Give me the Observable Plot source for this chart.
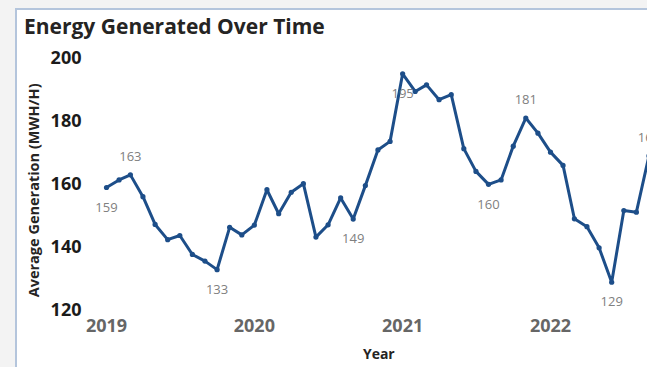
<!DOCTYPE html>
<html>
<head>
<meta charset="utf-8">
<script src="https://cdn.jsdelivr.net/npm/d3@7"></script>
<script src="https://cdn.jsdelivr.net/npm/@observablehq/plot@0.6"></script>
<style>
  html, body { margin: 0; padding: 0; overflow: hidden; background: #f3f3f3; }
  #page { position: relative; width: 647px; height: 367px; overflow: hidden; }
  #card {
    position: absolute; left: 15px; top: 8px; width: 700px; height: 400px;
    background: #ffffff; border-left: 2px solid #b4c5dc; border-top: 2px solid #b4c5dc;
  }
  #title {
    position: absolute; left: 24px; top: 12px; margin: 0;
    font: bold 21px "Open Sans", sans-serif; color: #252423; line-height: 28px; white-space: nowrap;
  }
  #chart { position: absolute; left: 0; top: 0; }
  #chart svg { max-width: none; }
</style>
</head>
<body>
<div id="page">
  <div id="card"></div>
  <div id="title">Energy Generated Over Time</div>
  <div id="chart"></div>
</div>
<script>
// Monthly average generation, January 2019 to September 2022
const months = [
  "2019-01","2019-02","2019-03","2019-04","2019-05","2019-06","2019-07","2019-08","2019-09","2019-10","2019-11","2019-12",
  "2020-01","2020-02","2020-03","2020-04","2020-05","2020-06","2020-07","2020-08","2020-09","2020-10","2020-11","2020-12",
  "2021-01","2021-02","2021-03","2021-04","2021-05","2021-06","2021-07","2021-08","2021-09","2021-10","2021-11","2021-12",
  "2022-01","2022-02","2022-03","2022-04","2022-05","2022-06","2022-07","2022-08","2022-09"
];
const generation = [
  159, 161.4, 163, 156.1, 147.3, 142.5, 143.8, 137.8, 135.7, 133, 146.4, 144,
  147.1, 158.3, 150.7, 157.5, 160.2, 143.3, 147.2, 155.7, 149, 159.6, 170.9, 173.6,
  195, 189.4, 191.5, 186.8, 188.4, 171.3, 164.1, 160, 161.4, 172.1, 181, 176.2,
  170.2, 166, 149.1, 146.6, 139.9, 129, 151.7, 151.2, 169
];
// Months that carry a data label, and whether the label sits above or below
const labelMonths = ["2019-01","2019-03","2019-10","2020-09","2021-01","2021-08","2021-11","2022-06","2022-09"];
const labelSides  = ["below","above","below","below","below","below","above","below","above"];
const yearTicks = ["2019","2020","2021","2022"];
const yTicks = [120, 140, 160, 180, 200];

const rows = months.map((m, i) => ({date: new Date(m + "-01T00:00:00Z"), value: generation[i], month: m}));
const labelled = labelMonths.map((m, i) => ({...rows.find(r => r.month === m), side: labelSides[i]}));

const lineColor = "#1d4e89";

const chart = Plot.plot({
  width: 680,
  height: 367,
  marginLeft: 106,
  marginRight: 19.4,
  marginTop: 57.5,
  marginBottom: 56.8,
  style: {background: "transparent", fontFamily: "'Open Sans', sans-serif"},
  x: {type: "utc", domain: [new Date("2019-01-01T00:00:00Z"), new Date("2022-10-01T00:00:00Z")]},
  y: {domain: [120, 200]},
  marks: [
    Plot.axisY(yTicks, {
      tickSize: 0, tickPadding: 25, label: null,
      fontSize: 18, fontWeight: "bold", fill: "#1b1b1b"
    }),
    Plot.axisX(yearTicks.map(y => new Date(y + "-01-01T00:00:00Z")), {
      tickSize: 0, tickPadding: 9, label: null, tickFormat: d3.utcFormat("%Y"),
      fontSize: 18, fontWeight: "bold", fill: "#666666"
    }),
    Plot.text(["Average Generation (MWH/H)"], {
      frameAnchor: "left", rotate: -90, dx: -72, dy: 6,
      textAnchor: "middle", lineAnchor: "middle",
      fontSize: 14.5, fontWeight: "bold", fill: "#252423"
    }),
    Plot.text(["Year"], {
      frameAnchor: "bottom", dy: 44, dx: -5,
      textAnchor: "middle", lineAnchor: "middle",
      fontSize: 14, fontWeight: "bold", fill: "#252423"
    }),
    Plot.line(rows, {x: "date", y: "value", stroke: lineColor, strokeWidth: 3, strokeLinejoin: "round"}),
    Plot.dot(rows, {x: "date", y: "value", r: 2.6, fill: lineColor}),
    Plot.text(labelled.filter(d => d.side === "below"), {
      x: "date", y: "value", text: d => String(Math.round(d.value)), dy: 20,
      fontSize: 13, fill: "#808080"
    }),
    Plot.text(labelled.filter(d => d.side === "above"), {
      x: "date", y: "value", text: d => String(Math.round(d.value)), dy: -18,
      fontSize: 13, fill: "#808080"
    })
  ]
});
document.getElementById("chart").append(chart);
</script>
</body>
</html>
